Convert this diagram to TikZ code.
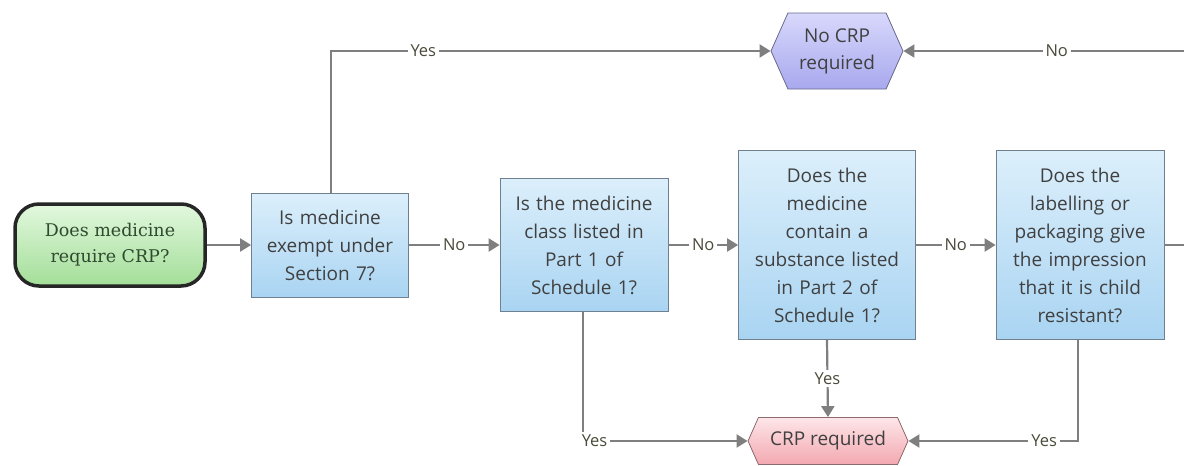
\documentclass[tikz,border=0pt]{standalone}
\usepackage{fontspec}
\setmainfont{Open Sans}
\newfontfamily\startfont{DejaVu Serif}
\usetikzlibrary{shapes.symbols,arrows.meta}
\definecolor{linegray}{HTML}{7F7F7F}
\definecolor{txtgray}{HTML}{404040}
\definecolor{lblcol}{HTML}{4A4A3A}
\definecolor{qtop}{HTML}{DCEFFB}
\definecolor{qbot}{HTML}{A9D4F2}
\definecolor{qdraw}{HTML}{6F8090}
\definecolor{gtop}{HTML}{E2F8DE}
\definecolor{gbot}{HTML}{A3DE98}
\definecolor{ptop}{HTML}{D8D8FC}
\definecolor{pbot}{HTML}{A8A8EE}
\definecolor{pdraw}{HTML}{6A6A8C}
\definecolor{rtop}{HTML}{FDE6E9}
\definecolor{rbot}{HTML}{F3A8B0}
\definecolor{rdraw}{HTML}{8C6A6E}
\definecolor{starttxt}{HTML}{2F4A2F}
\tikzset{
  qbox/.style={draw=qdraw, line width=0.8pt, top color=qtop, bottom color=qbot,
    text=txtgray, align=center, font=\fontsize{19}{28}\selectfont, inner sep=3pt},
  startbox/.style={draw=black!85, line width=3.5pt, rounded corners=24pt, top color=gtop, bottom color=gbot,
    text=starttxt, align=center, font=\startfont\fontsize{17.5}{26}\selectfont, minimum width=190pt, minimum height=82pt},
  hexa/.style={signal, signal to=east and west, signal pointer angle=132, line width=0.8pt, align=center,
    text=txtgray, font=\fontsize{19}{27}\selectfont, inner sep=3pt},
  conn/.style={draw=linegray, line width=2.2pt, -{Triangle[length=11pt,width=13pt]}},
  lbl/.style={fill=white, text=lblcol, font=\fontsize{16.5}{18}\selectfont, inner sep=3pt}
}
\begin{document}
\begin{tikzpicture}[x=1pt,y=-1pt]
\useasboundingbox (0,0) rectangle (1184,466);
\clip (0,0) rectangle (1184,466);
\node[startbox] (start) at (110,245) {Does medicine\\require CRP?};
\node[qbox, minimum width=157pt, minimum height=104pt, text width=150pt] (q1) at (330,245) {Is medicine\\exempt under\\Section 7?};
\node[qbox, minimum width=168pt, minimum height=133pt, text width=160pt] (q2) at (584,245) {Is the medicine\\class listed in\\Part 1 of\\Schedule 1?};
\node[qbox, minimum width=177pt, minimum height=189pt, text width=170pt] (q3) at (827,245) {Does the\\medicine\\contain a\\substance listed\\in Part 2 of\\Schedule 1?};
\node[qbox, minimum width=168pt, minimum height=189pt, text width=160pt] (q4) at (1080,245) {Does the\\labelling or\\packaging give\\the impression\\that it is child\\resistant?};
\node[hexa, draw=pdraw, top color=ptop, bottom color=pbot, minimum width=132pt, minimum height=76pt] (nocrp) at (837,51) {No CRP\\required};
\node[hexa, draw=rdraw, top color=rtop, bottom color=rbot, minimum width=160pt, minimum height=47pt] (crp) at (828,441) {CRP required};
\coordinate (cR) at (1210,245);
\coordinate (cRtop) at (1210,51);
\coordinate (cL) at (331,51);
\coordinate (cB2) at (583,441);
\coordinate (cB4) at (1078,441);
\draw[conn] (start.east) -- (q1.west);
\draw[conn] (q1.east) -- node[lbl]{No} (q2.west);
\draw[conn] (q2.east) -- node[lbl]{No} (q3.west);
\draw[conn] (q3.east) -- node[lbl]{No} (q4.west);
\draw[conn] (q1.north -| cL) -- (cL) -- node[lbl,pos=0.21]{Yes} (nocrp.west);
\draw[conn] (q4.east) -- (cR) -- (cRtop) -- node[lbl,pos=0.5]{No} (nocrp.east);
\draw[conn] (q2.south -| cB2) -- (cB2) -- node[lbl,pos=0.07]{Yes} (crp.west);
\draw[conn] (q3.south) -- node[lbl]{Yes} (crp.north);
\draw[conn] (q4.south -| cB4) -- (cB4) -- node[lbl,pos=0.2]{Yes} (crp.east);
\end{tikzpicture}
\end{document}
